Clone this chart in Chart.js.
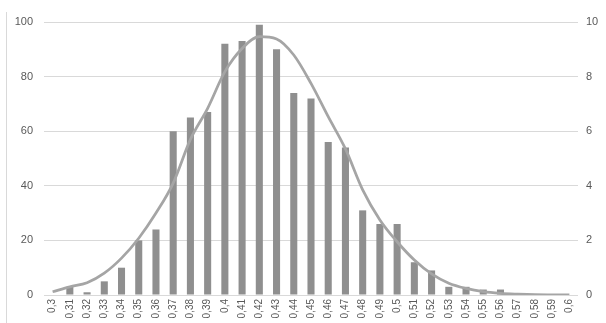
<!DOCTYPE html>
<html>
<head>
<meta charset="utf-8">
<script src="https://cdn.jsdelivr.net/npm/chart.js@4/dist/chart.umd.min.js"></script>
<style>
html,body{margin:0;padding:0;background:#fff;}
#wrap{width:606px;height:323px;position:relative;}
</style>
</head>
<body>
<div id="wrap"><canvas id="c" width="606" height="323"></canvas></div>
<script>
const categories = ["0,3","0,31","0,32","0,33","0,34","0,35","0,36","0,37","0,38","0,39","0,4","0,41","0,42","0,43","0,44","0,45","0,46","0,47","0,48","0,49","0,5","0,51","0,52","0,53","0,54","0,55","0,56","0,57","0,58","0,59","0,6"];
const counts = [0,3,1,5,10,20,24,60,65,67,92,93,99,90,74,72,56,54,31,26,26,12,9,3,3,2,2,0,0,0,0];
const density = [0.12,0.3,0.45,0.8,1.35,2.08,3.0,4.1,5.7,6.84,8.18,9.03,9.46,9.38,8.79,7.75,6.53,5.35,3.85,2.75,1.95,1.28,0.77,0.43,0.24,0.12,0.06,0.03,0.01,0.005,0.002];
const leftTicks = [0,20,40,60,80,100];
const rightTicks = [0,2,4,6,8,10];

const frame = {
  id:'frame',
  beforeDraw(chart){
    const ctx = chart.ctx;
    ctx.save();
    ctx.strokeStyle = '#d9d9d9';
    ctx.lineWidth = 1;
    ctx.beginPath();
    ctx.moveTo(6.5, 12);
    ctx.lineTo(6.5, 323);
    ctx.stroke();
    ctx.restore();
  }
};

new Chart(document.getElementById('c'), {
  data: {
    labels: categories,
    datasets: [
      {
        type:'line', data: density, yAxisID:'y1',
        borderColor:'#a5a5a5', borderWidth:2.75, pointRadius:0,
        cubicInterpolationMode:'monotone', order:0
      },
      {
        type:'bar', data: counts, yAxisID:'y',
        backgroundColor:'#8f8f8f', categoryPercentage:1, barPercentage:0.41, order:1
      }
    ]
  },
  plugins:[frame],
  options: {
    responsive:false, animation:false,
    layout:{padding:{top:22,left:0,right:0,bottom:0}},
    plugins:{legend:{display:false}, tooltip:{enabled:false}},
    scales:{
      x:{
        grid:{display:false, drawTicks:false}, border:{display:false},
        ticks:{color:'#595959', font:{family:'Liberation Sans', size:10}, minRotation:90, maxRotation:90, autoSkip:false, padding:4},
        afterFit(s){ s.height = 28; }
      },
      y:{
        position:'left', min:0, max:100,
        afterBuildTicks(s){ s.ticks = leftTicks.map(v=>({value:v})); },
        grid:{color:'#d9d9d9', drawTicks:false, lineWidth:1}, border:{display:false},
        ticks:{color:'#595959', font:{family:'Liberation Sans', size:11}, padding:11},
        afterFit(s){ s.width = 44; }
      },
      y1:{
        position:'right', min:0, max:10,
        afterBuildTicks(s){ s.ticks = rightTicks.map(v=>({value:v})); },
        grid:{display:false, drawTicks:false}, border:{display:false},
        ticks:{color:'#595959', font:{family:'Liberation Sans', size:11}, padding:8},
        afterFit(s){ s.width = 28; }
      }
    }
  }
});
</script>
</body>
</html>
